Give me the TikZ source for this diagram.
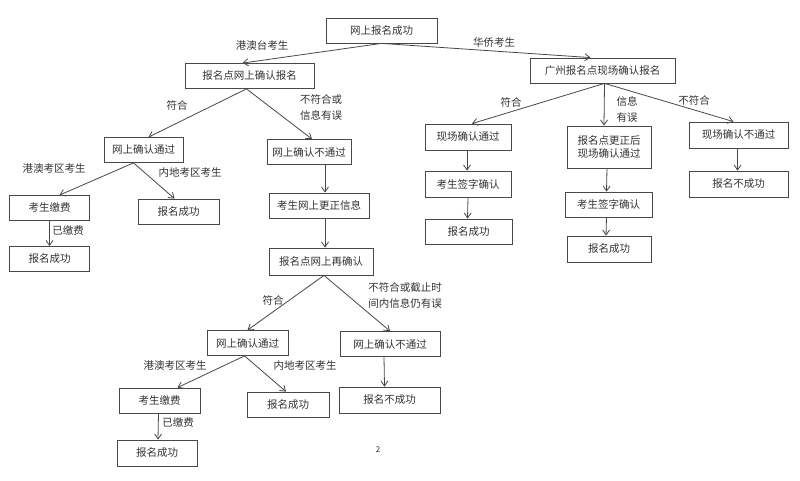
\documentclass[tikz,border=0pt]{standalone}
\usepackage{fontspec}
\setmainfont{Noto Sans CJK SC}
\usepackage{xcolor}
\definecolor{Col1}{RGB}{72,72,72}
\definecolor{Col2}{RGB}{50,50,50}
\usepackage{tikz}
\usetikzlibrary{arrows.meta}
\tikzstyle{Box}=[rectangle,draw=Col1,line width=0.8pt,minimum height=25pt,
inner sep=2pt,text=Col2,font=\fontsize{10.5}{13}\selectfont]
\tikzstyle{Edge}=[draw=Col1,line width=0.8pt,
-{Straight Barb[length=5pt,width=7pt]}]
\tikzstyle{Lab}=[inner sep=0pt,text=Col2,align=center,
font=\fontsize{10.5}{16}\selectfont]

\begin{document}
\begin{tikzpicture}[x=1pt,y=-1pt]
        \useasboundingbox (0,0) rectangle (800,481);
        % top
        \node[Box,minimum width=111pt](0)at(381.5,30.5){网上报名成功};
        \node[Box,minimum width=129pt](1)at(249.5,76){报名点网上确认报名};
        \node[Box,minimum width=145pt](2)at(602.5,70.5){广州报名点现场确认报名};
        % left branch
        \node[Box,minimum width=79pt](3)at(143.5,150){网上确认通过};
        \node[Box,minimum width=80pt](4)at(49.5,208){考生缴费};
        \node[Box,minimum width=81pt](5)at(178.5,211.5){报名成功};
        \node[Box,minimum width=80pt](6)at(49.5,259){报名成功};
        \node[Box,minimum width=84pt](7)at(309,152){网上确认不通过};
        \node[Box,minimum width=100pt](8)at(319,205.5){考生网上更正信息};
        \node[Box,minimum width=104pt,minimum height=27pt](9)at(321,261.5){报名点网上再确认};
        % bottom branch
        \node[Box,minimum width=81pt](10)at(247.5,343){网上确认通过};
        \node[Box,minimum width=100pt](11)at(390,344){网上确认不通过};
        \node[Box,minimum width=81pt](12)at(159.5,400.5){考生缴费};
        \node[Box,minimum width=82pt](13)at(288,404.5){报名成功};
        \node[Box,minimum width=101pt,minimum height=26pt](14)at(389.5,400){报名不成功};
        \node[Box,minimum width=80pt,minimum height=26pt](15)at(157,453){报名成功};
        % right branch
        \node[Box,minimum width=86pt,minimum height=26pt](16)at(468,137){现场确认通过};
        \node[Box,minimum width=84pt,minimum height=42pt,align=center](17)at(609,147)
        {报名点更正后\\现场确认通过};
        \node[Box,minimum width=99pt,minimum height=26pt](18)at(738.5,135){现场确认不通过};
        \node[Box,minimum width=86pt,minimum height=26pt](19)at(468,184){考生签字确认};
        \node[Box,minimum width=99pt,minimum height=26pt](20)at(738.5,184){报名不成功};
        \node[Box,minimum width=87pt](21)at(468.5,231.5){报名成功};
        \node[Box,minimum width=87pt](22)at(608.5,204.5){考生签字确认};
        \node[Box,minimum width=84pt,minimum height=26pt](23)at(609,249){报名成功};
        % edges
        \draw[Edge](0.south)--([xshift=-7pt]1.north);
        \draw[Edge](0.south)--([xshift=-12pt]2.north);
        \draw[Edge]([xshift=-3pt]1.south)--([xshift=5pt]3.north);
        \draw[Edge]([xshift=-3pt]1.south)--([xshift=3pt]7.north);
        \draw[Edge]([xshift=-10pt]3.south)--([xshift=10pt]4.north);
        \draw[Edge]([xshift=-10pt]3.south)--([xshift=-4pt]5.north);
        \draw[Edge](4.south)--(6.north);
        \draw[Edge]([xshift=16pt]7.south)--([xshift=6pt]8.north);
        \draw[Edge]([xshift=6pt]8.south)--([xshift=4pt]9.north);
        \draw[Edge]([xshift=3pt]9.south)--(10.north);
        \draw[Edge]([xshift=3pt]9.south)--(11.north);
        \draw[Edge]([xshift=-3pt]10.south)--([xshift=18pt]12.north);
        \draw[Edge]([xshift=-3pt]10.south)--([xshift=-2pt]13.north);
        \draw[Edge]([xshift=-1pt]12.south)--([xshift=1pt]15.north);
        \draw[Edge]([xshift=-6pt]11.south)--([xshift=-5pt]14.north);
        \draw[Edge]([xshift=2pt]2.south)--([xshift=4pt]16.north);
        \draw[Edge]([xshift=2pt]2.south)--([xshift=-5pt]17.north);
        \draw[Edge]([xshift=2pt]2.south)--([xshift=-5pt]18.north);
        \draw[Edge]([xshift=-1pt]16.south)--([xshift=-1pt]19.north);
        \draw[Edge](19.south)--([xshift=-1pt]21.north);
        \draw[Edge]([xshift=-2pt]17.south)--([xshift=-2pt]22.north);
        \draw[Edge]([xshift=-2pt]22.south)--([xshift=-3pt]23.north);
        \draw[Edge]([xshift=-1pt]18.south)--([xshift=-1pt]20.north);
        % labels
        \node[Lab](l0)at(262,45){港澳台考生};
        \node[Lab](l1)at(494,43){华侨考生};
        \node[Lab](l2)at(177,105){符合};
        \node[Lab](l3)at(321,108){不符合或\\信息有误};
        \node[Lab](l4)at(54,169){港澳考区考生};
        \node[Lab](l5)at(190,173){内地考区考生};
        \node[Lab](l6)at(68,231){已缴费};
        \node[Lab](l7)at(511,102){符合};
        \node[Lab](l8)at(627,109){信息\\有误};
        \node[Lab](l9)at(694,100){不符合};
        \node[Lab](l10)at(273,300){符合};
        \node[Lab](l11)at(405,296){不符合或截止时\\间内信息仍有误};
        \node[Lab](l12)at(175,366){港澳考区考生};
        \node[Lab](l13)at(305,366){内地考区考生};
        \node[Lab](l14)at(178,423){已缴费};
        \node[Lab,font=\fontsize{8}{10}\selectfont](pg)at(378,450){2};
    \end{tikzpicture}
\end{document}
